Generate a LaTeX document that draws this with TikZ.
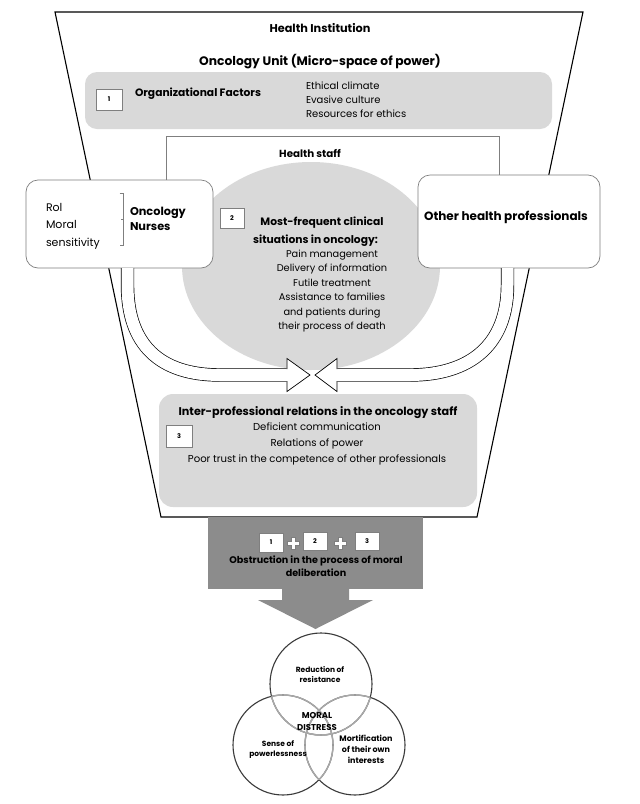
\documentclass[tikz,border=0pt]{standalone}
\usepackage{fontspec}
\setmainfont{Poppins}
\usetikzlibrary{calc}
\definecolor{lg}{HTML}{D9D9D9}
\definecolor{dg}{HTML}{8C8C8C}
\definecolor{bd}{HTML}{7F7F7F}
\definecolor{vc}{HTML}{3A3A3A}
\definecolor{vlc}{HTML}{A8A8A8}
\newcommand{\fsz}[2]{\fontsize{#1}{#2}\selectfont}
\begin{document}
\begin{tikzpicture}[x=1pt,y=-1pt,
  every node/.style={inner sep=0pt, outer sep=0pt},
  numbox/.style={draw=bd, fill=white, line width=0.6pt, font=\fsz{6.5}{7}\bfseries},
  roundbox/.style={draw=bd, fill=white, line width=0.7pt, rounded corners=12pt},
  graybox/.style={fill=lg, rounded corners=12pt},
  ttl/.style={font=\fsz{11.3}{13}\bfseries},
  hdr/.style={font=\fsz{10.7}{12}\bfseries},
  txt/.style={font=\fsz{10}{14}},
  hollow/.style={draw=black, line width=0.7pt, double=white, double distance=12pt},
  headline/.style={draw=black, line width=0.7pt, line join=miter},
  plussign/.style={fill=white, draw=bd, line width=0.5pt},
  venn/.style={draw=vc, line width=1.1pt},
  vennlight/.style={draw=vlc, line width=1.4pt},
  venntxt/.style={font=\fsz{7.5}{9.5}\bfseries, align=center}]
\useasboundingbox (0,0) rectangle (640,804);
\fill[white] (0,0) rectangle (640,804);

% funnel
\draw[line width=1.1pt, line join=miter] (55,12) -- (583,12) -- (477,517) -- (161,517) -- cycle;

% titles
\node[ttl] (hi) at (320,28) {Health Institution};
\node[ttl, font=\fsz{12.3}{14}\bfseries] (ou) at (320,62) {Oncology Unit (Micro-space of power)};

% organizational factors
\node[graybox, minimum width=467pt, minimum height=57pt] (org) at (318.5,100.5) {};
\node[numbox, minimum width=26pt, minimum height=21pt] (n1) at (109,99.5) {1};
\node[hdr, anchor=west] (orgt) at (135,94) {Organizational Factors};
\node[txt, anchor=west, align=left] (orgl) at (306,100) {Ethical climate\\Evasive culture\\Resources for ethics};

% health staff
\draw[bd, line width=0.7pt] (166,185) -- (166,136) -- (499,136) -- (499,180);
\node[hdr, font=\fsz{10.3}{12}\bfseries] (hs) at (310,153) {Health staff};

% clinical situations
\fill[lg] (311,266) ellipse [x radius=129pt, y radius=104pt];
\node[numbox, minimum width=24pt, minimum height=20pt] (n2) at (232,218) {2};
\node[hdr] (cs1) at (322,223) {Most-frequent clinical};
\node[hdr] (cs2) at (315.5,241) {situations in oncology:};
\node[align=center, font=\fsz{9.8}{14.4}] (csl) at (332,291) {Pain management\\Delivery of information\\Futile treatment\\Assistance to families\\and patients during\\their process of death};

% nurses and other professionals
\node[roundbox, minimum width=187pt, minimum height=88pt] (nurses) at (119.5,224) {};
\node[anchor=west, align=left, font=\fsz{11}{17.5}] (nt) at (46,226) {Rol\\Moral\\sensitivity};
\draw[bd, line width=0.6pt] (119.5,193) -- (123,193) -- (123,245) -- (119.5,245) (123,219) -- (120.5,219);
\node[anchor=west, align=left, font=\fsz{11.3}{15}\bfseries] (on) at (130,218.5) {Oncology\\Nurses};
\node[roundbox, minimum width=182pt, minimum height=93pt] (other) at (509,221.5) {};
\node[font=\fsz{12}{14}\bfseries] (ot) at (506,217) {Other health professionals};

% hollow arrows
\coordinate (lt) at (310,375);
\coordinate (rt) at (315,375);
\draw[hollow] ($(nurses.south)+(8,0)$) -- ++(0,17) .. controls (127.5,345) and (160,375) .. (220,375) -- ($(lt)+(-23,0)$);
\fill[white] ($(lt)+(-23.3,-16.5)$) -- (lt) -- ($(lt)+(-23.3,16.5)$) -- cycle;
\draw[headline] ($(lt)+(-23,-6)$) -- ($(lt)+(-23,-16.5)$) -- (lt) -- ($(lt)+(-23,16.5)$) -- ($(lt)+(-23,6)$);
\draw[hollow] ($(other.south)+(-1.5,0)$) -- ++(0,17) .. controls (507.5,345) and (470,375) .. (410,375) -- ($(rt)+(22,0)$);
\fill[white] ($(rt)+(22.3,-16.5)$) -- (rt) -- ($(rt)+(22.3,16.5)$) -- cycle;
\draw[headline] ($(rt)+(22,-6)$) -- ($(rt)+(22,-16.5)$) -- (rt) -- ($(rt)+(22,16.5)$) -- ($(rt)+(22,6)$);

% inter-professional relations
\node[graybox, rounded corners=14pt, minimum width=318pt, minimum height=113pt] (inter) at (318,450.5) {};
\node[numbox, minimum width=26pt, minimum height=22pt] (n3) at (179,436) {3};
\node[hdr, font=\fsz{11.2}{13}\bfseries] (it) at (318,413) {Inter-professional relations in the oncology staff};
\node[align=center, font=\fsz{10.1}{16}] (il) at (317,444) {Deficient communication\\Relations of power\\Poor trust in the competence of other professionals};

% obstruction
\node[fill=dg, minimum width=215pt, minimum height=72pt] (ob) at (315.5,553) {};
\fill[dg, shift={(ob.south)}] (-33.5,-1) -- (-33.5,11) -- (-57.5,11) -- (0,40) -- (57.5,11) -- (33.5,11) -- (33.5,-1) -- cycle;
\node[numbox, minimum width=24pt, minimum height=19pt] (o1) at (271,542.5) {1};
\node[numbox, minimum width=24pt, minimum height=18pt] (o2) at (315,541) {2};
\node[numbox, minimum width=24pt, minimum height=18pt] (o3) at (367,541.5) {3};
\draw[plussign, shift={(293,543)}] (-2,-6) -- (2,-6) -- (2,-2) -- (6,-2) -- (6,2) -- (2,2) -- (2,6) -- (-2,6) -- (-2,2) -- (-6,2) -- (-6,-2) -- (-2,-2) -- cycle;
\draw[plussign, shift={(340,543)}] (-2,-6) -- (2,-6) -- (2,-2) -- (6,-2) -- (6,2) -- (2,2) -- (2,6) -- (-2,6) -- (-2,2) -- (-6,2) -- (-6,-2) -- (-2,-2) -- cycle;
\node[align=center, font=\fsz{9.6}{13}\bfseries] (obt) at (316,566.5) {Obstruction in the process of moral\\deliberation};

% moral distress venn
\draw[venn] (321,684) circle[radius=51pt];
\draw[venn] (283,745) circle[radius=50pt];
\draw[venn] (355,745) circle[radius=50pt];
\begin{scope}
  \clip (283,745) circle[radius=50pt];
  \draw[vennlight] (321,684) circle[radius=51pt];
  \draw[vennlight] (355,745) circle[radius=50pt];
\end{scope}
\begin{scope}
  \clip (355,745) circle[radius=50pt];
  \draw[vennlight] (321,684) circle[radius=51pt];
  \draw[vennlight] (283,745) circle[radius=50pt];
\end{scope}
\begin{scope}
  \clip (321,684) circle[radius=51pt];
  \draw[vennlight] (283,745) circle[radius=50pt];
  \draw[vennlight] (355,745) circle[radius=50pt];
\end{scope}
\node[venntxt] (v1) at (320,674.5) {Reduction of\\resistance};
\node[venntxt, font=\fsz{8.5}{12}\bfseries] (v0) at (317,721) {MORAL\\DISTRESS};
\node[venntxt] (v2) at (278,749.5) {Sense of\\powerlessness};
\node[venntxt, font=\fsz{8}{11}\bfseries] (v3) at (366,749) {Mortification\\of their own\\interests};
\end{tikzpicture}
\end{document}
